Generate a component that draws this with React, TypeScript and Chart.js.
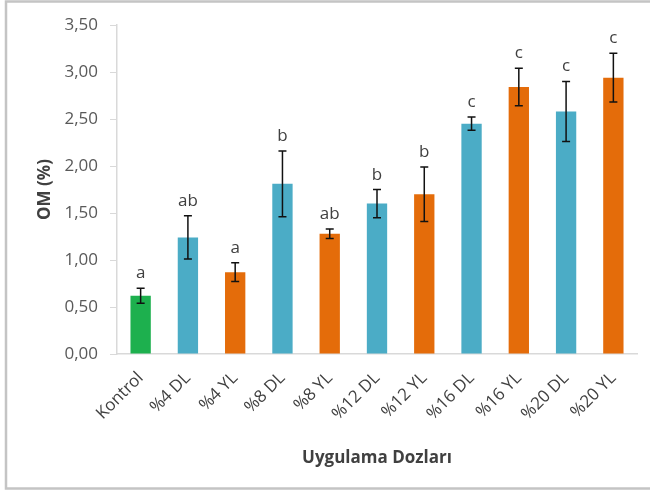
import React, { useEffect, useRef } from "react";
import { Chart, registerables } from "chart.js";

Chart.register(...registerables);

const categories = ["Kontrol", "%4 DL", "%4 YL", "%8 DL", "%8 YL", "%12 DL", "%12 YL", "%16 DL", "%16 YL", "%20 DL", "%20 YL"];
const means = [0.62, 1.24, 0.87, 1.81, 1.28, 1.6, 1.7, 2.45, 2.84, 2.58, 2.94];
const errors = [0.08, 0.23, 0.1, 0.35, 0.05, 0.15, 0.29, 0.07, 0.2, 0.32, 0.26];
const letters = ["a", "ab", "a", "b", "ab", "b", "b", "c", "c", "c", "c"];
const yTickLabels = ["0,00", "0,50", "1,00", "1,50", "2,00", "2,50", "3,00", "3,50"];

const GREEN = "#1db04e";
const BLUE = "#4bacc6";
const ORANGE = "#e46c0a";

function colorFor(cat: string) {
  if (cat === "Kontrol") return GREEN;
  if (cat.endsWith("DL")) return BLUE;
  return ORANGE;
}

const FONT = "'Open Sans', 'Noto Sans', sans-serif";

const framePlugin = {
  id: "frame",
  beforeDraw(chart: any) {
    const ctx = chart.ctx;
    ctx.save();
    ctx.fillStyle = "#ffffff";
    ctx.fillRect(0, 0, chart.width, chart.height);
    ctx.strokeStyle = "#c4c4c4";
    ctx.lineWidth = 2.5;
    ctx.strokeRect(6, 1.5, chart.width + 20, chart.height - 4);
    ctx.restore();
  },
};

const errorPlugin = {
  id: "errorBars",
  afterDatasetsDraw(chart: any) {
    const ctx = chart.ctx;
    const meta = chart.getDatasetMeta(0);
    const y = chart.scales.y;
    ctx.save();
    meta.data.forEach((bar: any, i: number) => {
      const x = bar.x;
      const top = y.getPixelForValue(means[i] + errors[i]);
      const bot = y.getPixelForValue(means[i] - errors[i]);
      ctx.strokeStyle = "#111111";
      ctx.lineWidth = 1.5;
      ctx.beginPath();
      ctx.moveTo(x, top);
      ctx.lineTo(x, bot);
      ctx.moveTo(x - 4, top);
      ctx.lineTo(x + 4, top);
      ctx.moveTo(x - 4, bot);
      ctx.lineTo(x + 4, bot);
      ctx.stroke();
      ctx.fillStyle = "#404040";
      ctx.font = `17px ${FONT}`;
      ctx.textAlign = "center";
      ctx.textBaseline = "alphabetic";
      ctx.fillText(letters[i], x, top - 10);
    });
    ctx.restore();
  },
};

export default function App() {
  const ref = useRef<HTMLCanvasElement | null>(null);
  useEffect(() => {
    if (!ref.current) return;
    const chart = new Chart(ref.current, {
      type: "bar",
      data: {
        labels: categories,
        datasets: [
          {
            data: means,
            backgroundColor: categories.map(colorFor),
            categoryPercentage: 1,
            barPercentage: 0.43,
          },
        ],
      },
      options: {
        animation: false,
        responsive: true,
        maintainAspectRatio: false,
        layout: { padding: { left: 0, right: 13, top: 25, bottom: 0 } },
        plugins: { legend: { display: false }, tooltip: { enabled: false } },
        scales: {
          x: {
            grid: { display: false },
            border: { display: true, color: "#d9d9d9", width: 1.5 },
            ticks: {
              color: "#404040",
              font: { family: FONT, size: 17 },
              minRotation: 45,
              maxRotation: 45,
              padding: 6,
              autoSkip: false,
            },
            title: {
              display: true,
              text: "Uygulama Dozları",
              color: "#404040",
              font: { family: FONT, size: 17, weight: "bold" },
              padding: { top: 4, bottom: 23 },
            },
            afterFit(scale: any) {
              scale.height = 137;
            },
          },
          y: {
            min: 0,
            max: 3.5,
            grid: { drawOnChartArea: false, drawTicks: true, tickLength: 7, color: "#d9d9d9" },
            border: { display: true, color: "#d9d9d9", width: 1.5 },
            ticks: {
              stepSize: 0.5,
              color: "#595959",
              font: { family: FONT, size: 17 },
              padding: 12,
              callback: (_v: any, i: number) => yTickLabels[i],
            },
            title: {
              display: true,
              text: "OM (%)",
              color: "#404040",
              font: { family: FONT, size: 17, weight: "bold" },
              padding: { top: 35, bottom: 0 },
            },
            afterFit(scale: any) {
              scale.width = 117;
            },
          },
        },
      },
      plugins: [framePlugin, errorPlugin],
    });
    return () => chart.destroy();
  }, []);
  return (
    <div style={{ position: "absolute", left: 0, top: 0, width: 650, height: 491 }}>
      <canvas ref={ref} />
    </div>
  );
}
